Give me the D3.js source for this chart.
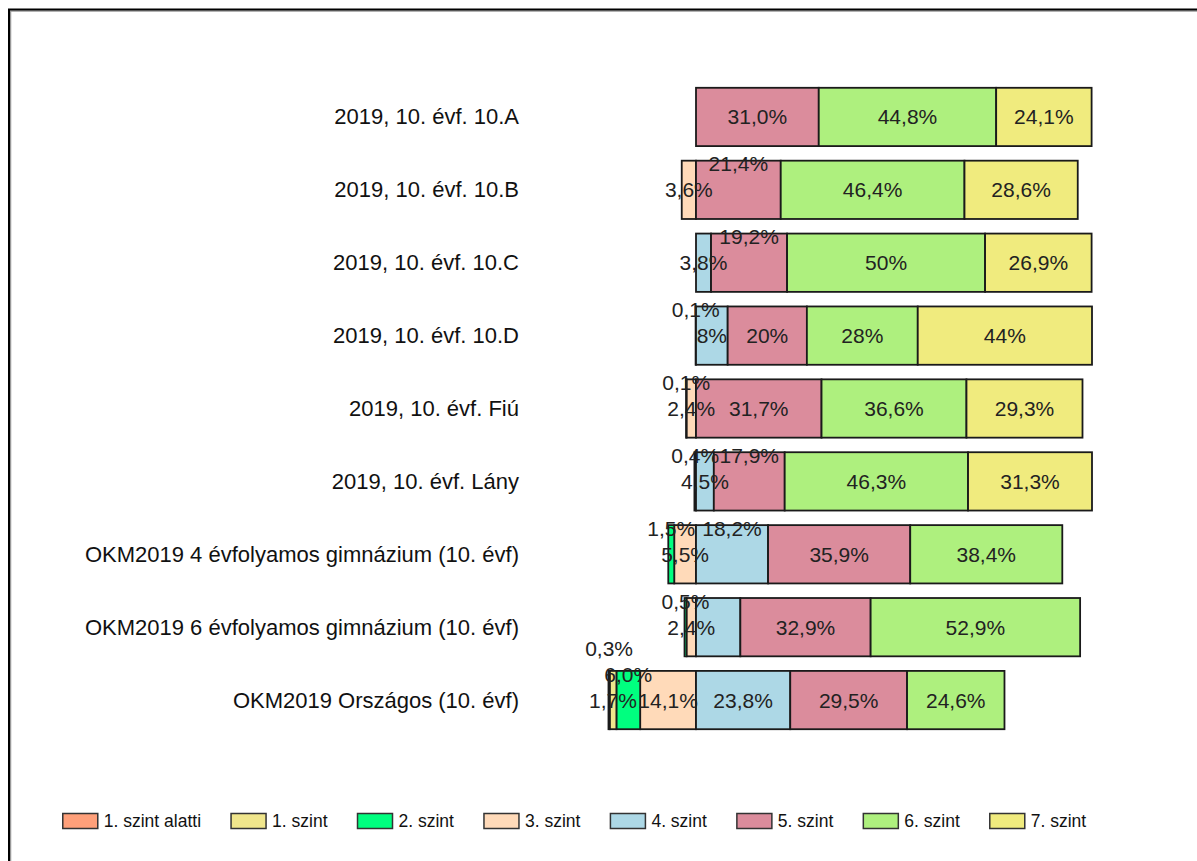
<!DOCTYPE html>
<html>
<head>
<meta charset="utf-8">
<script src="https://cdn.jsdelivr.net/npm/d3@7"></script>
<style>
  body { margin: 0; background: #fff; }
  svg { display: block; font-family: "Liberation Sans", Arial, sans-serif; }
</style>
</head>
<body>
<div class="container"></div>
<script>
var width = 1197,
    height = 861;

// categories (rows, top to bottom)
var categories = [
    "2019, 10. évf. 10.A",
    "2019, 10. évf. 10.B",
    "2019, 10. évf. 10.C",
    "2019, 10. évf. 10.D",
    "2019, 10. évf. Fiú",
    "2019, 10. évf. Lány",
    "OKM2019 4 évfolyamos gimnázium (10. évf)",
    "OKM2019 6 évfolyamos gimnázium (10. évf)",
    "OKM2019 Országos (10. évf)"
];

var seriesNames = ["1. szint alatti", "1. szint", "2. szint", "3. szint",
                   "4. szint", "5. szint", "6. szint", "7. szint"];
var seriesColors = ["#FFA07A", "#F0E68C", "#00FF7F", "#FFDAB9",
                    "#ADD8E6", "#DB8C9C", "#AEF07E", "#F0EB7E"];

// values in % per series, one entry per category ("" = no value)
var szintAlatti = ["", "", "", "0.1", "0.1", "0.4", "", "", "0.3"];
var szint1 = ["", "", "", "", "", "", "", "", "1.7"];
var szint2 = ["", "", "", "", "", "", "1.5", "0.5", "6.0"];
var szint3 = ["", "3.6", "", "", "2.4", "", "5.5", "2.4", "14.1"];
var szint4 = ["", "", "3.8", "8", "", "4.5", "18.2", "11.2", "23.8"];
var szint5 = ["31.0", "21.4", "19.2", "20", "31.7", "17.9", "35.9", "32.9", "29.5"];
var szint6 = ["44.8", "46.4", "50", "28", "36.6", "46.3", "38.4", "52.9", "24.6"];
var szint7 = ["24.1", "28.6", "26.9", "44", "29.3", "31.3", "", "", ""];

var seriesValues = [szintAlatti, szint1, szint2, szint3, szint4, szint5, szint6, szint7];
var negativeSeries = 4; // first 4 series stack to the left of zero

var svg = d3.select("div.container").append("svg")
    .attr("width", width)
    .attr("height", height);

// frame (top + left edge only)
svg.append("line").attr("x1", 8).attr("x2", width).attr("y1", 11).attr("y2", 11)
    .attr("stroke", "#999").attr("stroke-width", 1.5);
svg.append("line").attr("x1", 10.5).attr("x2", 10.5).attr("y1", 11).attr("y2", height)
    .attr("stroke", "#999").attr("stroke-width", 1.5);
svg.append("line").attr("x1", 8).attr("x2", width).attr("y1", 9.5).attr("y2", 9.5)
    .attr("stroke", "#000").attr("stroke-width", 2);
svg.append("line").attr("x1", 9).attr("x2", 9).attr("y1", 9).attr("y2", height)
    .attr("stroke", "#000").attr("stroke-width", 2);

var pxPerPct = 3.96, zeroX = 696;
var x = d3.scaleLinear()
    .domain([-40, 100])
    .range([zeroX - 40 * pxPerPct, zeroX + 100 * pxPerPct]);

var y = d3.scaleBand()
    .domain(categories)
    .range([80.5, 736.5])
    .paddingInner(0.2)
    .paddingOuter(0.1);

// build segments
var segments = [];
categories.forEach(function(cat, ci) {
    var neg = 0, pos = 0;
    // left side: 3. szint closest to zero, then outward
    for (var s = negativeSeries - 1; s >= 0; s--) {
        var raw = seriesValues[s][ci];
        if (raw === "") continue;
        var v = +raw;
        segments.push({cat: cat, s: s, raw: raw, x0: neg - v, x1: neg});
        neg -= v;
    }
    for (var s2 = negativeSeries; s2 < seriesNames.length; s2++) {
        var raw2 = seriesValues[s2][ci];
        if (raw2 === "") continue;
        var v2 = +raw2;
        segments.push({cat: cat, s: s2, raw: raw2, x0: pos, x1: pos + v2});
        pos += v2;
    }
});

svg.append("g").selectAll("rect")
    .data(segments)
    .enter().append("rect")
    .attr("x", function(d) { return x(d.x0); })
    .attr("y", function(d) { return y(d.cat); })
    .attr("width", function(d) { return x(d.x1) - x(d.x0); })
    .attr("height", y.bandwidth())
    .attr("fill", function(d) { return seriesColors[d.s]; })
    .attr("stroke", "#1a1a1a")
    .attr("stroke-width", 1.8);

// category labels
svg.append("g").selectAll("text")
    .data(categories)
    .enter().append("text")
    .attr("x", 519)
    .attr("y", function(d) { return y(d) + y.bandwidth() / 2; })
    .attr("text-anchor", "end")
    .attr("dominant-baseline", "central")
    .attr("font-size", 22)
    .attr("fill", "#111")
    .text(function(d) { return d; });

// value labels with simple collision avoidance (move up a level)
var labelOrder = [3, 2, 1, 4, 5, 6, 7, 0];
var labelG = svg.append("g");
var levelStep = 26;

categories.forEach(function(cat) {
    var placed = [];
    var rowSegs = segments.filter(function(d) { return d.cat === cat; });
    rowSegs.sort(function(a, b) { return labelOrder.indexOf(a.s) - labelOrder.indexOf(b.s); });
    rowSegs.forEach(function(d) {
        var cx = (x(d.x0) + x(d.x1)) / 2;
        var t = labelG.append("text")
            .attr("x", cx)
            .attr("text-anchor", "middle")
            .attr("dominant-baseline", "central")
            .attr("font-size", 21)
            .attr("fill", "#222")
            .text(d.raw.replace(".", ",") + "%");
        var w = t.node().getComputedTextLength();
        var a0 = cx - w / 2, a1 = cx + w / 2;
        var maxLevel = d.s >= negativeSeries ? 1 : 2;
        var level = 0;
        while (level <= maxLevel && placed.some(function(p) {
            return p.level === level && Math.min(a1, p.x1) - Math.max(a0, p.x0) > 1;
        })) level++;
        if (level > maxLevel) { t.remove(); return; }
        placed.push({level: level, x0: a0, x1: a1});
        t.attr("y", y(cat) + y.bandwidth() / 2 - level * levelStep);
    });
});

// legend (flow layout)
var legend = svg.append("g");
var items = legend.selectAll("g")
    .data(seriesNames)
    .enter().append("g");
items.append("rect")
    .attr("width", 35).attr("height", 15)
    .attr("y", 813.5)
    .attr("fill", function(d, i) { return seriesColors[i]; })
    .attr("stroke", "#333").attr("stroke-width", 1.5);
items.append("text")
    .attr("x", 41).attr("y", 821)
    .attr("dominant-baseline", "central")
    .attr("font-size", 17.5)
    .attr("fill", "#111")
    .text(function(d) { return d; });
var cursor = 0, offsets = [];
items.each(function() {
    var tw = d3.select(this).select("text").node().getComputedTextLength();
    offsets.push(cursor);
    cursor += 41 + tw + 30;
});
var legendStart = 574.5 - (cursor - 30) / 2;
items.attr("transform", function(d, i) { return "translate(" + (legendStart + offsets[i]) + ",0)"; });
</script>
</body>
</html>
